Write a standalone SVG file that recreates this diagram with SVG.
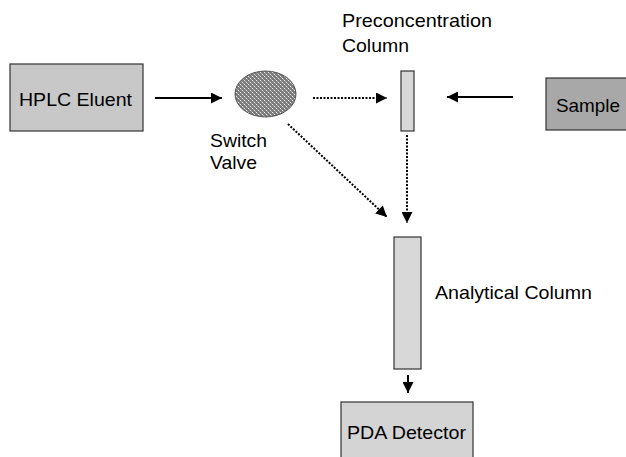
<svg xmlns="http://www.w3.org/2000/svg" width="626" height="457" viewBox="0 0 626 457">
<style>
  text { font-family: "Liberation Sans", Arial, sans-serif; font-size: 19px; fill: #000; }
  .box { stroke: #333; stroke-width: 1.2; }
  .solid { stroke: #000; stroke-width: 2; fill: none; }
  .dot { stroke: #000; stroke-width: 2; stroke-dasharray: 2 1.5; fill: none; }
</style>
<defs>
  <marker id="ah" viewBox="0 0 10 10" refX="10" refY="5" markerWidth="12" markerHeight="11" markerUnits="userSpaceOnUse" orient="auto">
    <path d="M0,0 L10,5 L0,10 z" fill="#000"/>
  </marker>
  <pattern id="hatch" width="4" height="4" patternUnits="userSpaceOnUse">
    <rect width="4" height="4" fill="#7a7a7a"/>
    <rect x="0" y="0" width="1" height="1" fill="#f0f0f0"/>
    <rect x="2" y="2" width="1" height="1" fill="#f0f0f0"/>
    <rect x="1" y="1" width="1" height="1" fill="#b0b0b0"/>
    <rect x="3" y="3" width="1" height="1" fill="#b0b0b0"/>
  </pattern>
</defs>
<rect width="626" height="457" fill="#fff"/>
<g id="hplc">
  <rect class="box" x="10" y="64" width="133" height="67" fill="#c8c8c8"/>
  <text x="19" y="106" textLength="113" lengthAdjust="spacingAndGlyphs">HPLC Eluent</text>
</g>
<g id="valve">
  <ellipse cx="265.5" cy="94" rx="30.5" ry="23" fill="url(#hatch)" stroke="#555" stroke-width="1"/>
  <text x="210" y="147" textLength="57" lengthAdjust="spacingAndGlyphs">Switch</text>
  <text x="210" y="169" textLength="47" lengthAdjust="spacingAndGlyphs">Valve</text>
</g>
<g id="precol">
  <rect class="box" x="401" y="71" width="13" height="60" fill="#d8d8d8"/>
  <text x="342" y="27" textLength="150" lengthAdjust="spacingAndGlyphs">Preconcentration</text>
  <text x="342" y="52" textLength="67" lengthAdjust="spacingAndGlyphs">Column</text>
</g>
<g id="sample">
  <rect class="box" x="546" y="78" width="90" height="52" fill="#a8a8a8"/>
  <text x="556" y="112" textLength="64" lengthAdjust="spacingAndGlyphs">Sample</text>
</g>
<g id="anacol">
  <rect class="box" x="394" y="237" width="27" height="132" fill="#d8d8d8"/>
  <text x="435" y="299" textLength="157" lengthAdjust="spacingAndGlyphs">Analytical Column</text>
</g>
<g id="pda">
  <rect class="box" x="341" y="402" width="132" height="62" fill="#d4d4d4"/>
  <text x="347" y="439" textLength="119" lengthAdjust="spacingAndGlyphs">PDA Detector</text>
</g>
<g id="connectors">
  <line class="solid" x1="155" y1="98" x2="222" y2="98" marker-end="url(#ah)"/>
  <line class="dot" x1="313" y1="98" x2="387" y2="98" marker-end="url(#ah)"/>
  <line class="solid" x1="513" y1="97" x2="447" y2="97" marker-end="url(#ah)"/>
  <line class="dot" x1="407" y1="135" x2="407" y2="223" marker-end="url(#ah)"/>
  <line class="dot" x1="288" y1="124" x2="387" y2="217" marker-end="url(#ah)"/>
  <line class="solid" x1="408" y1="375" x2="408" y2="393" marker-end="url(#ah)"/>
</g>
</svg>
